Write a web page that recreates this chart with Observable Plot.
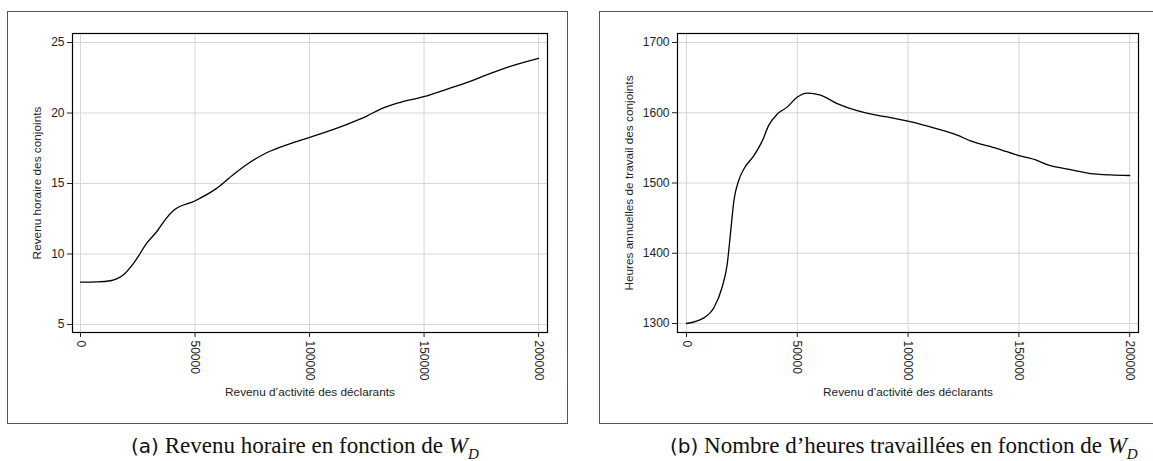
<!DOCTYPE html>
<html>
<head>
<meta charset="utf-8">
<script src="https://cdn.jsdelivr.net/npm/d3@7"></script>
<script src="https://cdn.jsdelivr.net/npm/@observablehq/plot@0.6"></script>
<style>
  html, body { margin: 0; padding: 0; background: #fff; }
  #page { position: relative; width: 1153px; height: 461px; overflow: hidden; background: #fff; }
  .box { position: absolute; box-sizing: border-box; border: 1px solid #555; }
  .panel { position: absolute; }
  .cap { position: absolute; white-space: nowrap; font-family: "Liberation Serif", "DejaVu Serif", serif; font-size: 23px; line-height: 23px; color: #111; }
  .cap .lab { font-family: "DejaVu Sans", "Liberation Sans", sans-serif; font-size: 20px; }
  .cap i sub { font-size: 15px; font-style: italic; }
</style>
</head>
<body>
<div id="page">
  <div class="box" style="left:7px; top:11px; width:561px; height:413px;"></div>
  <div class="box" style="left:599px; top:11px; width:560px; height:413px;"></div>
  <div class="panel" id="pa" style="left:7px; top:11px;"></div>
  <div class="panel" id="pb" style="left:599px; top:11px;"></div>
  <div class="cap" style="left:131px; top:434px;"><span class="lab">(a)</span> Revenu horaire en fonction de <i>W<sub>D</sub></i></div>
  <div class="cap" style="left:670px; top:434px;"><span class="lab">(b)</span> Nombre d’heures travaillées en fonction de <i>W<sub>D</sub></i></div>
</div>
<script>
// ---- Data ----
const xTicks = [0, 50000, 100000, 150000, 200000];
const yTicksA = [5, 10, 15, 20, 25];
const yTicksB = [1300, 1400, 1500, 1600, 1700];

const revenuA = [0, 7300, 13100, 16000, 18900, 23300, 29100, 33500, 37100, 40700, 49900, 58950, 66900, 72800, 81500, 91000, 100000, 116400, 125200, 131000, 139700, 149900, 160100, 168900, 177600, 186300, 200000];
const horaireA = [8.0, 8.02, 8.1, 8.25, 8.55, 9.37, 10.8, 11.63, 12.46, 13.1, 13.76, 14.6, 15.66, 16.37, 17.2, 17.8, 18.27, 19.2, 19.8, 20.28, 20.76, 21.16, 21.7, 22.18, 22.72, 23.24, 23.88];

const revenuB = [0, 7800, 12300, 16100, 18400, 19900, 21400, 23600, 25900, 30400, 34200, 37100, 40900, 45400, 49900, 54400, 60500, 68000, 77000, 86800, 92100, 99900, 113100, 122100, 128200, 140200, 150000, 158300, 162800, 173300, 183800, 191300, 200000];
const heuresB = [1300, 1308, 1322, 1352, 1385, 1430, 1475, 1504, 1520, 1539, 1560, 1582, 1598, 1608, 1622, 1628, 1625, 1613, 1603, 1596, 1593, 1588, 1577, 1568, 1560, 1549, 1539, 1532, 1526, 1519, 1513, 1511.5, 1510.7];

const xTitle = "Revenu d’activité des déclarants";
const yTitleA = "Revenu horaire des conjoints";
const yTitleB = "Heures annuelles de travail des conjoints";

function panel({xs, ys, xDomain, yDomain, yTicks, yTitle, marginLeft, marginRight, width, yTitleOffset}) {
  const data = xs.map((x, i) => ({x, y: ys[i]}));
  return Plot.plot({
    width, height: 412,
    marginLeft, marginRight, marginTop: 22, marginBottom: 91,
    style: {fontFamily: "'Liberation Sans', Arial, sans-serif", fontSize: "12px", color: "#222", background: "transparent", overflow: "visible"},
    x: {domain: xDomain},
    y: {domain: yDomain},
    marks: [
      Plot.gridX(xTicks, {stroke: "#d6d6d6", strokeOpacity: 1, strokeWidth: 1}),
      Plot.gridY(yTicks, {stroke: "#d6d6d6", strokeOpacity: 1, strokeWidth: 1}),
      Plot.line(data, {x: "x", y: "y", stroke: "black", strokeWidth: 1.3, curve: "monotone-x"}),
      Plot.frame({stroke: "black", strokeWidth: 1.2}),
      Plot.axisX(xTicks, {tickRotate: 90, tickSize: 5, tickPadding: 3, tickFormat: d => String(d), label: null}),
      Plot.axisY(yTicks, {tickSize: 5, tickPadding: 3, tickFormat: d => String(d), label: null}),
      Plot.text([xTitle], {frameAnchor: "bottom", dy: 60, fontSize: 11.8, textAnchor: "middle", lineAnchor: "middle", fill: "#222"}),
      Plot.text([yTitle], {frameAnchor: "left", dx: -yTitleOffset, rotate: -90, fontSize: 11.8, textAnchor: "middle", lineAnchor: "middle", fill: "#222"})
    ]
  });
}

document.getElementById("pa").append(panel({
  xs: revenuA, ys: horaireA, xDomain: [-3500, 203900], yDomain: [4.43, 25.64],
  yTicks: yTicksA, yTitle: yTitleA, marginLeft: 65, marginRight: 20, width: 560, yTitleOffset: 35
}));
document.getElementById("pb").append(panel({
  xs: revenuB, ys: heuresB, xDomain: [-4060, 203970], yDomain: [1287.2, 1712.8],
  yTicks: yTicksB, yTitle: yTitleB, marginLeft: 78, marginRight: 15, width: 554, yTitleOffset: 48
}));
</script>
</body>
</html>
